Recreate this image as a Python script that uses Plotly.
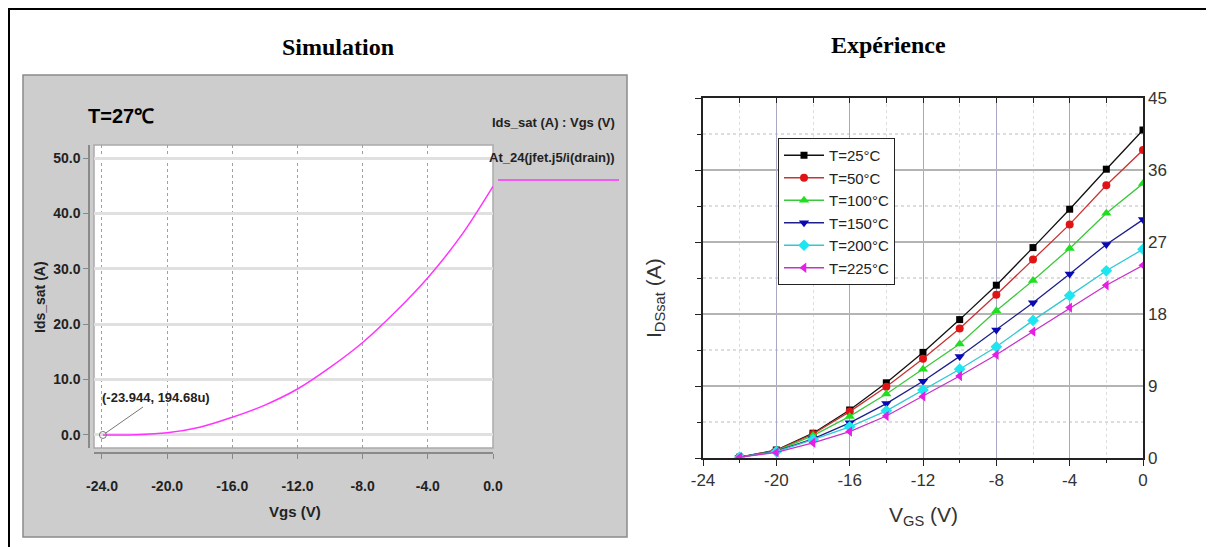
import plotly.graph_objects as go

W, H = 1214, 547
# the page shows the figure with an 8 px body margin; layout positions below are
# given in reference-picture pixels and converted with that offset
OFF = 8

# ---------------- data ----------------
sim_vgs = [-23.944, -22, -20, -18, -16, -14, -12, -10, -8, -6, -4, -2, 0]
sim_ids = [0.000195, 0.05, 0.4, 1.4, 3.2, 5.4, 8.3, 12.2, 16.7, 22.2, 28.4, 35.8, 44.9]

exp_vgs = [-22, -20, -18, -16, -14, -12, -10, -8, -6, -4, -2, 0]
exp_T25 = [0.1, 1.0, 3.1, 6.0, 9.4, 13.2, 17.3, 21.6, 26.3, 31.1, 36.1, 41.0]
exp_T50 = [0.1, 0.95, 3.0, 5.8, 8.9, 12.4, 16.2, 20.4, 24.8, 29.2, 34.1, 38.5]
exp_T100 = [0.1, 0.9, 2.8, 5.2, 8.0, 11.1, 14.25, 18.4, 22.2, 26.2, 30.6, 34.3]
exp_T150 = [0.1, 0.85, 2.4, 4.4, 6.8, 9.6, 12.7, 16.0, 19.4, 23.0, 26.7, 29.8]
exp_T200 = [0.1, 0.8, 2.3, 3.9, 5.9, 8.5, 11.1, 13.9, 17.2, 20.3, 23.4, 26.1]
exp_T225 = [0.1, 0.7, 1.9, 3.3, 5.25, 7.7, 10.25, 12.9, 15.8, 18.8, 21.6, 24.1]

exp_names = ["T=25°C", "T=50°C", "T=100°C", "T=150°C", "T=200°C", "T=225°C"]
exp_series = [exp_T25, exp_T50, exp_T100, exp_T150, exp_T200, exp_T225]

sim_xticks = [-24, -20, -16, -12, -8, -4, 0]
sim_xlabels = ["-24.0", "-20.0", "-16.0", "-12.0", "-8.0", "-4.0", "0.0"]
sim_yticks = [0, 10, 20, 30, 40, 50]
sim_ylabels = ["0.0", "10.0", "20.0", "30.0", "40.0", "50.0"]
exp_xticks = [-24, -20, -16, -12, -8, -4, 0]
exp_xlabels = ["-24", "-20", "-16", "-12", "-8", "-4", "0"]
exp_yticks = [0, 9, 18, 27, 36, 45]
exp_ylabels = ["0", "9", "18", "27", "36", "45"]

# ---------------- styles ----------------
line_colors = ["#111111", "#c83232", "#3cc83c", "#1e1e8c", "#32c8d2", "#c832c8"]
marker_colors = ["#000000", "#e01414", "#1ee01e", "#0a0ab4", "#1ee6f0", "#e61ee6"]
symbols = ["square", "circle", "triangle-up", "triangle-down", "diamond", "triangle-left"]
msizes = [7, 8, 9, 9, 9, 9]

NARROW = "Liberation Sans Narrow, Arial Narrow, Liberation Sans, sans-serif"
SANS = "Liberation Sans, Arial, sans-serif"
SERIF = "Liberation Serif, Times New Roman, serif"


def px(x):
    return (x - OFF) / W


def py(y):
    return 1 - (y - OFF) / H


fig = go.Figure()

# simulation curve
fig.add_trace(go.Scatter(
    x=sim_vgs, y=sim_ids, mode="lines", line=dict(color="#ff33ff", width=1.5, shape="spline"),
    xaxis="x", yaxis="y", showlegend=False, hoverinfo="skip"))
# cursor marker
fig.add_trace(go.Scatter(
    x=sim_vgs[:1], y=sim_ids[:1], mode="markers",
    marker=dict(symbol="circle-open", size=7, color="#777777", line=dict(width=1)),
    xaxis="x", yaxis="y", showlegend=False, hoverinfo="skip"))

for name, ys, lc, mc, sym, ms in zip(exp_names, exp_series, line_colors, marker_colors, symbols, msizes):
    fig.add_trace(go.Scatter(
        x=exp_vgs, y=ys, mode="lines+markers", name=name,
        line=dict(color=lc, width=1.3),
        marker=dict(symbol=sym, size=ms, color=mc, line=dict(width=0)),
        xaxis="x2", yaxis="y2"))

# empty traces so that the overlay axes (top ticks, right labels) get drawn
fig.add_trace(go.Scatter(x=[], y=[], xaxis="x3", yaxis="y2", showlegend=False, hoverinfo="skip"))
fig.add_trace(go.Scatter(x=[], y=[], xaxis="x2", yaxis="y3", showlegend=False, hoverinfo="skip"))

shapes = [
    # grey simulation panel
    dict(type="rect", xref="paper", yref="paper", x0=px(23), x1=px(627), y0=py(537), y1=py(75),
         fillcolor="#cdcdcd", line=dict(color="#8a8a8a", width=1.5), layer="below"),
    # white plotting area of simulation
    dict(type="rect", xref="paper", yref="paper", x0=px(94), x1=px(493), y0=py(448), y1=py(145),
         fillcolor="#ffffff", line=dict(color="#aaaaaa", width=1.5), layer="below"),
    # legend sample line of simulation
    dict(type="line", xref="paper", yref="paper", x0=px(498), x1=px(619), y0=py(180), y1=py(180),
         line=dict(color="#ff33ff", width=1.6)),
    # outer frame (as close to the page corner as the margin allows)
    dict(type="line", xref="paper", yref="paper", x0=0, x1=1, y0=py(OFF + 1), y1=py(OFF + 1),
         line=dict(color="#000000", width=2)),
    dict(type="line", xref="paper", yref="paper", x0=px(OFF + 1), x1=px(OFF + 1), y0=1, y1=0,
         line=dict(color="#000000", width=2)),
]


def ann(text, x, y, font, **kw):
    d = dict(text=text, x=x, y=y, xref="paper", yref="paper", showarrow=False,
             xanchor="center", yanchor="middle", font=font)
    d.update(kw)
    return d


annotations = [
    ann("<b>Simulation</b>", px(338), py(47), dict(family=SERIF, size=24, color="#000")),
    ann("<b>Expérience</b>", px(888), py(45), dict(family=SERIF, size=24, color="#000")),
    ann("<b>T=27℃</b>", px(86), py(116), dict(family=SANS, size=20, color="#000"), xanchor="left"),
    ann("<b>Ids_sat (A) : Vgs (V)</b>", px(617), py(122), dict(family=NARROW, size=13, color="#222"),
        xanchor="right"),
    ann("<b>At_24(jfet.j5/i(drain))</b>", px(617), py(157), dict(family=NARROW, size=13, color="#222"),
        xanchor="right"),
    ann("<b>Ids_sat (A)</b>", px(40), py(297), dict(family=SANS, size=14, color="#222"), textangle=-90),
    ann("<b>Vgs (V)</b>", px(295), py(511), dict(family=NARROW, size=15, color="#222")),
    ann("I<sub>DSsat</sub> (A)", px(655), py(298), dict(family=SANS, size=21, color="#333"), textangle=-90),
    ann("V<sub>GS</sub> (V)", px(923), py(516), dict(family=SANS, size=21, color="#333")),
    dict(text="<b>(-23.944, 194.68u)</b>", x=sim_vgs[0], y=sim_ids[0], xref="x", yref="y",
         ax=53, ay=-37, showarrow=True, arrowhead=0, arrowwidth=1, arrowcolor="#777777",
         standoff=3, font=dict(family=NARROW, size=13, color="#222")),
]

sim_xdom = [px(94), px(493)]
sim_ydom = [py(448), py(145)]
exp_xdom = [px(703), px(1143)]
exp_ydom = [py(458), py(98)]

fig.update_layout(
    width=W, height=H, margin=dict(l=0, r=0, t=0, b=0, autoexpand=False),
    paper_bgcolor="#ffffff", plot_bgcolor="rgba(0,0,0,0)",
    shapes=shapes, annotations=annotations,
    xaxis=dict(domain=sim_xdom, anchor="free", position=py(453), range=[-24.49, 0],
               tickvals=sim_xticks, ticktext=sim_xlabels, ticks="outside", ticklen=5,
               tickcolor="#888", showline=True, linecolor="#8a8a8a", linewidth=1.5,
               showgrid=True, gridcolor="#a0a0a0", griddash="dot", gridwidth=1, zeroline=False,
               ticklabelstandoff=15,
               tickfont=dict(family=NARROW, size=14, color="#222", weight="bold")),
    yaxis=dict(domain=sim_ydom, anchor="free", position=px(89), range=[-2.35, 52.35],
               tickvals=sim_yticks, ticktext=sim_ylabels, ticks="outside", ticklen=5,
               tickcolor="#888", showline=True, linecolor="#8a8a8a", linewidth=1.5,
               showgrid=True, gridcolor="#e0e0e0", gridwidth=3, zeroline=False,
               tickfont=dict(family=NARROW, size=14, color="#222", weight="bold")),
    xaxis2=dict(domain=exp_xdom, anchor="y2", range=[-24, 0], tickvals=exp_xticks,
                ticktext=exp_xlabels,
                ticks="outside", ticklen=6, tickcolor="#222", showline=True, mirror=True,
                linecolor="#222", linewidth=1.5,
                showgrid=True, gridcolor="#a8a8c4", gridwidth=1.2, zeroline=False,
                minor=dict(dtick=2, ticks="outside", ticklen=3, tickcolor="#222",
                           showgrid=True, gridcolor="#dddddd", griddash="dot"),
                tickfont=dict(family=SANS, size=17, color="#333")),
    yaxis2=dict(domain=exp_ydom, anchor="x2", range=[0, 45], tickvals=exp_yticks,
                showticklabels=False, ticks="outside", ticklen=6, tickcolor="#222",
                showline=True, mirror=True, linecolor="#222", linewidth=1.5,
                showgrid=True, gridcolor="#b4b4b4", gridwidth=1.5, zeroline=False,
                minor=dict(dtick=4.5, ticks="outside", ticklen=4, tickcolor="#222",
                           showgrid=True, gridcolor="#dddddd", griddash="dot")),
    xaxis3=dict(overlaying="x2", anchor="y2", side="top", range=[-24, 0], dtick=2,
                ticks="inside", ticklen=5, tickcolor="#222", showticklabels=False,
                showgrid=False, zeroline=False, showline=False),
    yaxis3=dict(overlaying="y2", anchor="x2", side="right", range=[0, 45], tickvals=exp_yticks,
                ticktext=exp_ylabels,
                ticks="", showgrid=False, zeroline=False, showline=False,
                ticklabelstandoff=4,
                tickfont=dict(family=SANS, size=17, color="#333")),
    legend=dict(x=px(778), y=py(138), xanchor="left", yanchor="top", xref="paper", yref="paper",
                bgcolor="#ffffff", bordercolor="#222", borderwidth=1,
                font=dict(family=SANS, size=15, color="#222"), tracegroupgap=0,
                itemwidth=40),
)

fig.write_html("out.html")
